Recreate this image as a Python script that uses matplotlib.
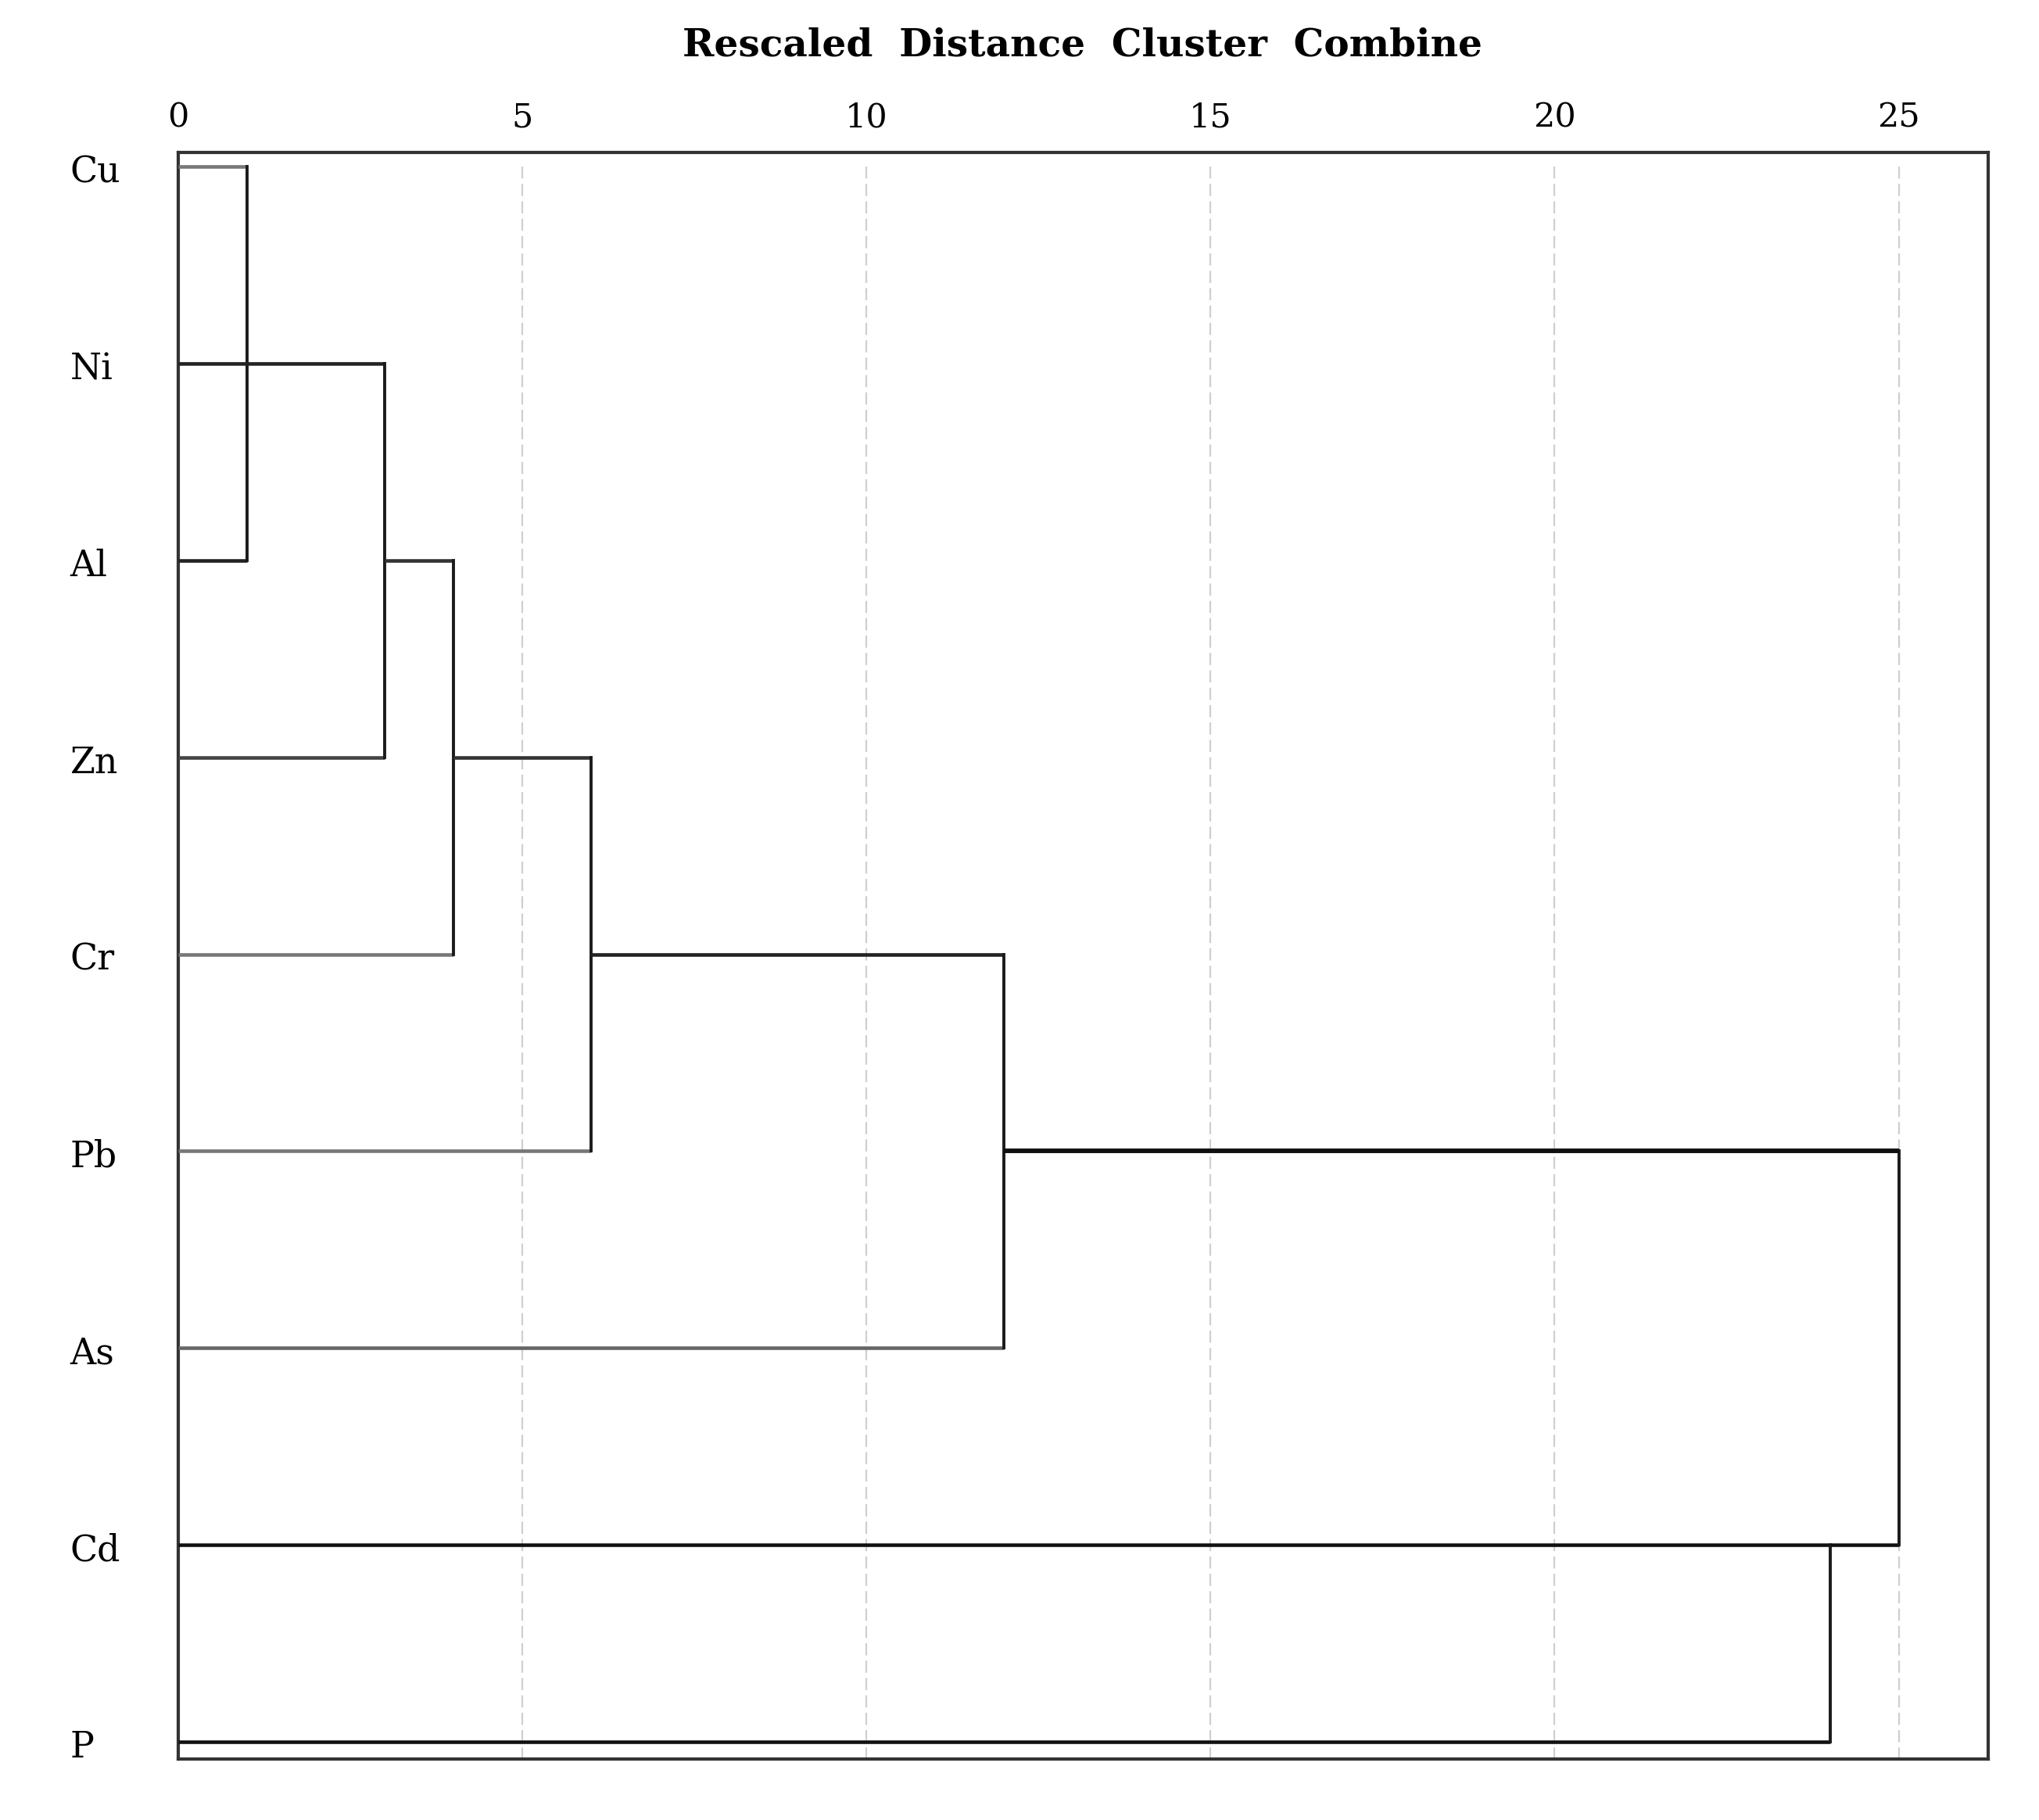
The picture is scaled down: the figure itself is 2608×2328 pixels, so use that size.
import matplotlib
matplotlib.use('Agg')
import matplotlib.pyplot as plt

# leaves, top to bottom
labels = ['Cu', 'Ni', 'Al', 'Zn', 'Cr', 'Pb', 'As', 'Cd', 'P']

# merges: (y of upper child, y of lower child, upper child height, lower child height, merge height)
# y is the row index where each child's line is drawn (SPSS style)
merge_upper_y = [0, 1, 2, 3, 4, 7, 5]
merge_lower_y = [2, 3, 4, 5, 6, 8, 7]
merge_upper_h = [0, 0, 3, 4, 6, 0, 12]
merge_lower_h = [0, 0, 0, 0, 0, 0, 24]
merge_height = [1, 3, 4, 6, 12, 24, 25]

# grey/black tone per merge child line (upper, lower)
upper_col = ['#777777', '#222222', '#333333', '#333333', '#222222', '#111111', '#151515']
lower_col = ['#222222', '#444444', '#777777', '#777777', '#666666', '#111111', '#111111']

xticks = [0, 5, 10, 15, 20, 25]

fig = plt.figure(figsize=(26.08, 23.28), dpi=100)
ax = fig.add_axes([0.0874, 0.0336, 0.8877, 0.8828])

serif = ['DejaVu Serif']

# dashed reference lines
ax.vlines(xticks[1:], 0, 8.09, colors='#cfcfcf', linestyles=(0, (7, 3)), linewidth=1.6, zorder=1)

for i in range(len(merge_height)):
    h = merge_height[i]
    yu, yl = merge_upper_y[i], merge_lower_y[i]
    ax.plot([merge_upper_h[i], h], [yu, yu], color=upper_col[i], lw=3.3, solid_capstyle='butt', zorder=3)
    ax.plot([merge_lower_h[i], h], [yl, yl], color=lower_col[i], lw=3.3, solid_capstyle='butt', zorder=3)
    ax.plot([h, h], [yu, yl], color='#1a1a1a', lw=2.8, zorder=3)

# Pb-level line is drawn heavier in the original
ax.plot([12, 25], [5, 5], color='#111111', lw=4.2, solid_capstyle='butt', zorder=4)

ax.set_xlim(0, 26.3)
ax.set_ylim(8.086, -0.073)

ax.xaxis.tick_top()
ax.set_xticks(xticks)
ax.set_xticklabels([str(t) for t in xticks], family=serif, fontsize=31)
ax.tick_params(axis='x', length=0, pad=17)
ax.set_yticks([])

for i, lab in enumerate(labels):
    ax.text(-1.57, i + 0.03, lab, family=serif, fontsize=33, ha='left', va='center')

for s in ax.spines.values():
    s.set_linewidth(3.0)
    s.set_color('#333333')

fig.text(0.531, 0.975, 'Rescaled  Distance  Cluster  Combine', family=serif, fontsize=35,
         fontweight='bold', ha='center', va='center')

fig.savefig('out.png', dpi=100, facecolor='white')
